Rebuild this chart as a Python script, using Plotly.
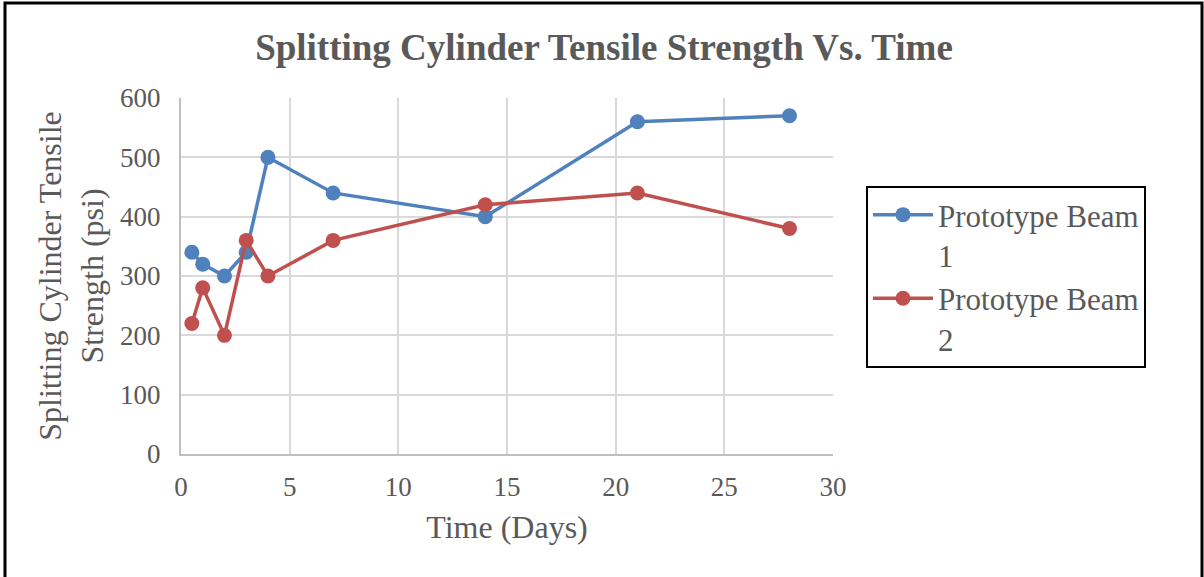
import plotly.graph_objects as go

days = [0.5, 1, 2, 3, 4, 7, 14, 21, 28]
beam1 = [340, 320, 300, 340, 500, 440, 400, 560, 570]
beam2 = [220, 280, 200, 360, 300, 360, 420, 440, 380]
names = ["Prototype Beam<br>1", "Prototype Beam<br>2"]
colors = ["#4F81BD", "#C0504D"]

W, H = 1204, 577
L, R, T, B = 181, 833, 98, 454
pw, ph = R - L, B - T

def px(x):
    return (x - L) / pw

def py(y):
    return (B - y) / ph

fig = go.Figure()
for ys, nm, c in zip([beam1, beam2], names, colors):
    fig.add_trace(go.Scatter(x=days, y=ys, name=nm, mode="lines+markers",
                             line=dict(color=c, width=3.5),
                             marker=dict(color=c, size=15)))

font = "Liberation Serif"
grey = "#595959"
fig.update_layout(
    width=W, height=H,
    margin=dict(l=L, r=W - R, t=T, b=H - B),
    paper_bgcolor="white", plot_bgcolor="white",
    font=dict(family=font, color=grey, size=27),
    title=dict(text="<b>Splitting Cylinder Tensile Strength Vs. Time</b>",
               x=604 / W, xanchor="center", y=1 - 47 / H, yanchor="middle",
               font=dict(size=37, color=grey, family=font)),
    xaxis=dict(range=[0, 30], dtick=5, showgrid=True, gridcolor="#D9D9D9", gridwidth=2,
               showline=True, linecolor="#BFBFBF", linewidth=2, zeroline=False,
               ticks="", ticklabelstandoff=8, tickfont=dict(size=27, color=grey, family=font),
               title=dict(text="Time (Days)", font=dict(size=32, color=grey, family=font), standoff=14)),
    yaxis=dict(range=[0, 600], dtick=100, showgrid=True, gridcolor="#D9D9D9", gridwidth=2,
               showline=True, linecolor="#BFBFBF", linewidth=2, zeroline=False,
               ticks="", ticklabelstandoff=13, tickfont=dict(size=27, color=grey, family=font),
               title=dict(text="Splitting Cylinder Tensile<br>Strength (psi)",
                          font=dict(size=32, color=grey, family=font), standoff=7)),
    legend=dict(x=px(866), y=py(186), xanchor="left", yanchor="top",
                bordercolor="black", borderwidth=2, bgcolor="white",
                font=dict(size=31, color=grey, family=font),
                valign="top", itemwidth=60, tracegroupgap=7),
    showlegend=True,
)
fig.add_shape(type="rect", xref="paper", yref="paper",
              x0=px(5), x1=px(1202), y0=py(590), y1=py(3),
              line=dict(color="black", width=3), fillcolor="rgba(0,0,0,0)",
              layer="above")
fig.write_html("out.html")
